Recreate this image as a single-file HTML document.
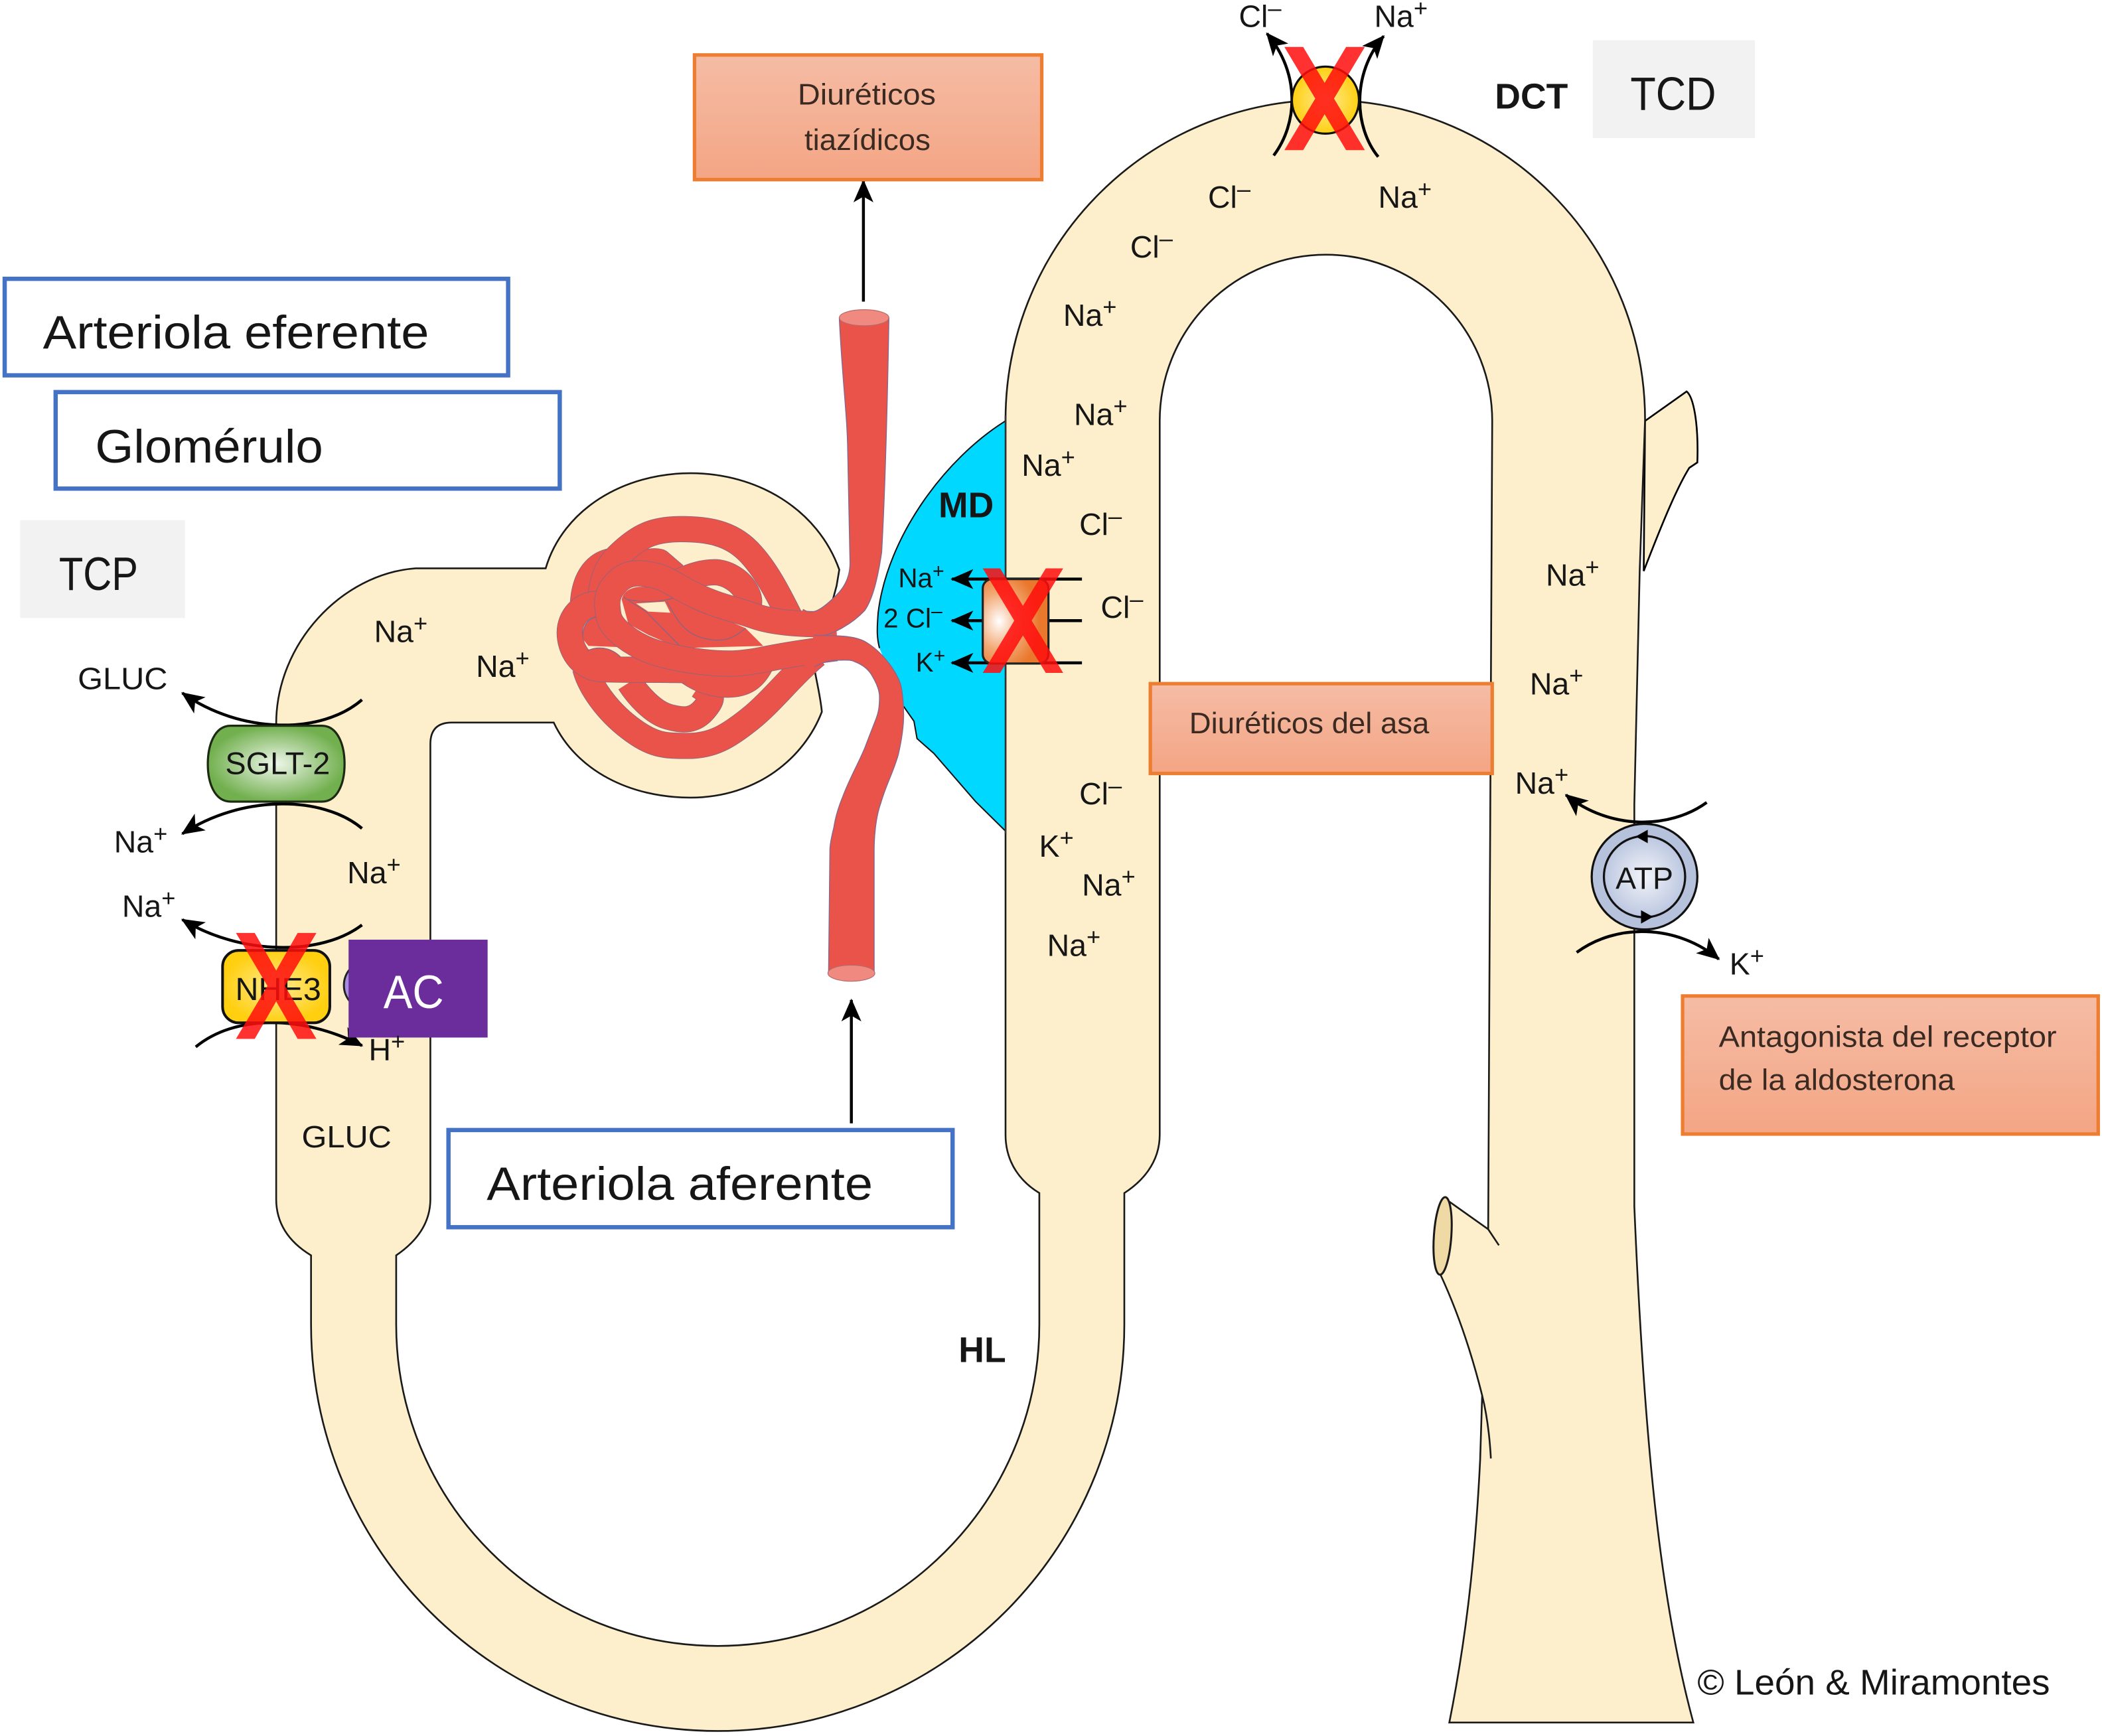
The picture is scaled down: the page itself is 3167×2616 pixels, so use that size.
<!DOCTYPE html>
<html><head><meta charset="utf-8"><title>Nefrona</title>
<style>
html,body{margin:0;padding:0;background:#fff}
svg{display:block}
text{font-family:"Liberation Sans",sans-serif;fill:#161616;font-size:23px}
.s{font-size:18px}
.b{font-weight:bold;font-size:26.5px}
.t{font-size:35px}
.o{font-size:22px;fill:#3a2a22}
.co path{fill:none;stroke-linecap:butt;stroke-linejoin:round}
.co .e{stroke:#8a6480;stroke-width:118}
.co .f{stroke:#e9534a;stroke-width:113}
.co .r{fill:#e9534a;stroke:none}
.co .l{fill:none;stroke:#8a6480;stroke-width:4}
.a{fill:none;stroke:#000;stroke-width:2.2;marker-end:url(#ah)}
.v{fill:none;stroke:#86688a;stroke-width:.7}
</style></head><body>
<svg xmlns="http://www.w3.org/2000/svg" width="3167" height="2616" viewBox="0 0 1567.82 1295.05">
<defs>
<marker id="ah" markerUnits="userSpaceOnUse" markerWidth="17" markerHeight="17" viewBox="0 0 16 16" refX="15" refY="8" orient="auto"><path d="M0,1 L16,8 L0,15 L4,8z" fill="#000"/></marker>
<linearGradient id="og" x1="0" y1="0" x2="0" y2="1"><stop offset="0" stop-color="#f5bca5"/><stop offset="1" stop-color="#f4a584"/></linearGradient>
<radialGradient id="gg"><stop offset="0" stop-color="#eef6ea"/><stop offset="1" stop-color="#72b04f"/></radialGradient>
<radialGradient id="yg"><stop offset="0" stop-color="#ffeb95"/><stop offset="1" stop-color="#ffcf10"/></radialGradient>
<radialGradient id="nk" cx=".25" cy=".5" r=".62"><stop offset="0" stop-color="#fff"/><stop offset=".55" stop-color="#f2a873"/><stop offset="1" stop-color="#e9772c"/></radialGradient>
<radialGradient id="at"><stop offset="0" stop-color="#f2f4f9"/><stop offset="1" stop-color="#bcc7e0"/></radialGradient>
</defs>
<rect width="1568" height="1296" fill="#fff"/>

<!-- side branch top right -->
<path d="M1227,314 L1258,292 C1263,296 1267,315 1266,345 L1260,349 C1250,365 1238,395 1226,426 Z" fill="#fdefcb" stroke="#000" stroke-width="1.3"/>

<!-- tubule -->
<path d="M206,540 V894.5 C206,915 218,928 232,936.5 V988 A300,300 0 0 0 838.6,988 V890 C851,882 865,868 865,846.5 V314 A120,120 0 0 1 1113,314 L1110,917 L1079,895 L1074,950 C1088,980 1098,1011 1105.5,1041 L1104,1089 C1100,1170 1092,1230 1081,1285 H1263 C1240,1200 1227,1090 1219,900 L1219,600 L1223,426 L1227,313 A238.5,238.5 0 0 0 750,313 V846.5 C750,868 762,882 775.2,890 V988 A235,235 0 0 1 295.5,988 V936.5 C308,928 321,915 321,894.5 V555 Q321,539 337,539 H413 C430,575 470,595 515,595 C565,595 600,565 613,531 C612,520 609,508 607.4,498.5 L624,437 L626,425 C610,380 565,353 515,353 C465,353 420,380 407,424 H310 C255,428 206,480 206,540 Z" fill="#fdefcb" stroke="#1a1a1a" stroke-width="1.3"/>
<path d="M1105.5,1041 C1109,1055 1111,1070 1112,1088" fill="none" stroke="#1a1a1a" stroke-width="1.3"/>
<path d="M1110,917 L1118,929" fill="none" stroke="#1a1a1a" stroke-width="1.3"/>
<ellipse cx="1076" cy="922" rx="6.5" ry="29" transform="rotate(4 1076 922)" fill="#efd9a4" stroke="#1a1a1a" stroke-width="1.5"/>

<!-- macula densa -->
<path d="M750,314 C705,342 662,400 655,457 C654,470 654,476 656,483.5 L674,527 L681.7,538 L684,551 L696.5,562 L727.7,598 L750,620 Z" fill="#00d8ff"/>
<path d="M750,314 C705,342 662,400 655,457 C654,470 654,476 656,483.5 M674,527 L681.7,538 L684,551 L696.5,562 L727.7,598 L750,620" fill="none" stroke="#111" stroke-width="1"/>
<path d="M750,310 V622" fill="none" stroke="#333" stroke-width="1.3"/>

<!-- glomerular coil -->
<g class="co" transform="translate(405.94,366.34) scale(.16502)">
<path class="e" d="M185,800 C205,880 280,990 385,1070 S540,1152 650,1152 S830,1110 930,1030 S1120,830 1230,740"/>
<path class="f" d="M185,800 C205,880 280,990 385,1070 S540,1152 650,1152 S830,1110 930,1030 S1120,830 1230,740"/>
<path class="e" d="M385,865 C420,920 490,1000 560,1020 S680,1040 725,985 S760,920 700,880"/>
<path class="f" d="M385,865 C420,920 490,1000 560,1020 S680,1040 725,985 S760,920 700,880"/>
<path class="e" d="M620,790 C680,850 760,875 830,875 S950,850 985,770"/>
<path class="f" d="M620,790 C680,850 760,875 830,875 S950,850 985,770"/>
<path class="e" d="M175,510 C180,410 220,330 310,315"/>
<path class="f" d="M175,510 C180,410 220,330 310,315"/>
<path class="e" d="M400,370 C430,330 480,310 520,320 L590,380"/>
<path class="f" d="M400,370 C430,330 480,310 520,320 L590,380"/>
<path class="e" d="M610,410 C670,380 720,367 770,367 S880,400 910,450 S920,520 915,560"/>
<path class="f" d="M610,410 C670,380 720,367 770,367 S880,400 910,450 S920,520 915,560"/>
<path class="e" d="M1110,570 C1060,470 1000,350 920,270 S740,172 620,172 S440,200 370,260 S270,360 255,470"/>
<path class="f" d="M1110,570 C1060,470 1000,350 920,270 S740,172 620,172 S440,200 370,260 S270,360 255,470"/>
<path class="r" d="M232,570 C190,580 170,620 175,670 L200,700 L330,705 L230,560 Z"/>
<path class="l" d="M232,570 C190,580 170,620 175,670"/>
<path class="e" d="M240,510 C170,510 115,570 115,640 S160,800 260,805 S480,805 640,810"/>
<path class="f" d="M240,510 C170,510 115,570 115,640 S160,800 260,805 S480,805 640,810"/>
<path class="r" d="M195,722 C240,700 300,705 345,750 L250,752 Z"/>
<path class="l" d="M195,722 C240,700 300,705 345,750"/>
<path class="r" d="M350,490 C360,440 420,420 500,440 L910,620 L990,700 L610,710 L470,650 L380,600 Z"/>
<path d="M415,508 L545,500 L570,550 L470,545 Z" style="fill:#fdefcb;stroke:none"/>
<path class="l" d="M360,480 L460,545 L610,697"/>
<path class="l" d="M380,490 C450,505 520,505 605,478"/>
<path class="l" d="M555,500 C590,560 620,640 720,665 S860,660 910,620"/>
<path class="e" d="M1320,600 C1200,605 1050,600 950,565 S800,525 700,480 S560,395 500,382 S380,360 330,410 S280,500 290,560 S380,675 440,705 S600,760 720,773 S900,780 1000,760 S1200,725 1320,710"/>
<path class="f" d="M1320,600 C1200,605 1050,600 950,565 S800,525 700,480 S560,395 500,382 S380,360 330,410 S280,500 290,560 S380,675 440,705 S600,760 720,773 S900,780 1000,760 S1200,725 1320,710"/>
</g>

<!-- efferent arteriole -->
<path d="M626,237 C628,280 632,310 632.3,337 L634,420 C634,430 630,438 623.8,444 C617,451 610,456.4 605.5,456.4 C602,456.4 600,455.5 599,454.5 L590,470 L607,475 C620,475 636,465 645,455.4 C650,448 654,436 657.6,412 C660,370 662,300 663,237 Z" fill="#e9534a"/>
<path class="v" d="M626,237 C628,280 632,310 632.3,337 L634,420 C634,430 630,438 623.8,444 C617,451 610,456.4 605.5,456.4 C602,456.4 600,455.5 599,454.5"/>
<path class="v" d="M607,475 C620,475 636,465 645,455.4 C650,448 654,436 657.6,412 C660,370 662,300 663,237"/>
<ellipse cx="644.5" cy="237" rx="18.5" ry="6" fill="#f08a80" stroke="#b86a6a" stroke-width=".6"/>
<!-- afferent arteriole -->
<path d="M652,726 L652,634 C652,625 653,610 657,599 C661,585 666,577 670,563 C673,550 674,540 674,533 C674,525 673,515 671.6,510 C668,500 658,486 645,478.5 C638,475 630,474 607,474 L600,497 L607.4,497.5 C612,495 618,492.5 624,492.5 C630,492.5 634,492 637,493.4 C644,496 648,500 650,503.3 C654,510 656,515 656,520 C656,528 655,532 653.5,536 C650,545 648,550 645,558 C640,570 634,580 628.7,594 C625,603 623,610 622,617 C620,625 619,630 619,634 L618,726 Z" fill="#e9534a"/>
<path class="v" d="M652,726 L652,634 C652,625 653,610 657,599 C661,585 666,577 670,563 C673,550 674,540 674,533 C674,525 673,515 671.6,510 C668,500 658,486 645,478.5 C638,475 630,474 607,474"/>
<path class="v" d="M607.4,497.5 C612,495 618,492.5 624,492.5 C630,492.5 634,492 637,493.4 C644,496 648,500 650,503.3 C654,510 656,515 656,520 C656,528 655,532 653.5,536 C650,545 648,550 645,558 C640,570 634,580 628.7,594 C625,603 623,610 622,617 C620,625 619,630 619,634 L618,726"/>
<ellipse cx="635" cy="726" rx="17.5" ry="6" fill="#f08a80" stroke="#b86a6a" stroke-width=".6"/>

<!-- vertical arrows -->
<path class="a" d="M644,225 V135"/>
<path class="a" d="M635,838 V746"/>

<!-- NKCC -->
<path class="a" d="M807,432 H710"/>
<path class="a" d="M807,463 H710"/>
<path class="a" d="M807,494.5 H710"/>
<rect x="733" y="432" width="49" height="63" rx="7" fill="url(#nk)" stroke="#222" stroke-width="1.6"/>

<!-- SGLT-2 arrows -->
<path class="a" d="M270,522 C240,548 180,548 136,517"/>
<path class="a" d="M270,618 C240,593 180,593 136,622"/>
<path class="a" d="M270,690 C240,713 180,713 136,686"/>
<path class="a" d="M146,781 C175,757 225,757 270,780"/>
<path d="M172,541.4 H240 C252,541.4 257,556 257,570 S252,598 240,598 H172 C160,598 155,584 155,570 S160,541.4 172,541.4 Z" fill="url(#gg)" stroke="#1c2a14" stroke-width="1.6"/>
<text x="168" y="577.5" style="font-size:23.2px">SGLT-2</text>
<rect x="166" y="709" width="80" height="54" rx="12" fill="url(#yg)" stroke="#111" stroke-width="2"/>
<text x="175.5" y="746" style="font-size:24px">NHE3</text>
<circle cx="275" cy="735" r="18.5" fill="#a78be0" stroke="#222" stroke-width="1.5"/>

<!-- DCT transporter -->
<path class="a" d="M950,116 C968,92 970,55 945,25"/>
<path class="a" d="M1028,117 C1010,95 1008,55 1032,27"/>
<circle cx="988.6" cy="74.7" r="25" fill="url(#yg)" stroke="#111" stroke-width="1.6"/>

<!-- ATP -->
<path class="a" d="M1273,598.6 C1245,619 1200,619 1168,593"/>
<path class="a" d="M1176,710.5 C1205,689 1250,689 1282,715.5"/>
<circle cx="1226.6" cy="654" r="39.4" fill="#b6c1dc" stroke="#111" stroke-width="1.6"/>
<circle cx="1226.6" cy="654" r="30.3" fill="url(#at)" stroke="#111" stroke-width="1.6"/>
<path d="M1220,624 L1229,619 L1229,629 Z" fill="#000"/>
<path d="M1233,684 L1224,679 L1224,689 Z" fill="#000"/>
<text x="1205" y="663" style="font-size:23px">ATP</text>

<!-- Red X marks -->
<g fill="#ff0d0d" opacity=".85">
<path d="M958,35 h14 L988,61.8 L1004,35 h14 L995,73.5 L1018,112 h-14 L988,85.2 L972,112 h-14 L981,73.5 Z"/>
<path d="M733,424 h13 L763,452 L780,424 h13 L769.5,463 L793,502 h-13 L763,474 L746,502 h-13 L756.5,463 Z"/>
<path d="M176,696 h14 L206,724 L222,696 h14 L212.5,735.5 L236,775 h-14 L206,747 L190,775 h-14 L199.5,735.5 Z"/>
</g>

<!-- AC box -->
<rect x="260" y="701" width="103.7" height="73" fill="#6b2d9b"/>
<text x="286" y="752" class="t" style="fill:#fff" textLength="45" lengthAdjust="spacingAndGlyphs">AC</text>

<!-- Blue boxes -->
<g fill="#fff" stroke="#4472c4" stroke-width="3.2">
<rect x="3.5" y="208" width="375.5" height="72"/>
<rect x="41.5" y="292.5" width="376" height="72"/>
<rect x="334.5" y="843" width="376" height="72.5"/>
</g>
<text x="32" y="260" class="t" textLength="288" lengthAdjust="spacingAndGlyphs">Arteriola eferente</text>
<text x="71" y="345" class="t" textLength="170" lengthAdjust="spacingAndGlyphs">Glomérulo</text>
<text x="363" y="895" class="t" textLength="288" lengthAdjust="spacingAndGlyphs">Arteriola aferente</text>

<!-- Grey boxes -->
<rect x="15" y="388" width="123" height="73" fill="#f2f2f2"/>
<text x="44" y="440" class="t" textLength="59" lengthAdjust="spacingAndGlyphs">TCP</text>
<rect x="1188" y="30" width="121" height="73" fill="#f2f2f2"/>
<text x="1216" y="82" class="t" textLength="64" lengthAdjust="spacingAndGlyphs">TCD</text>

<!-- Orange boxes -->
<g fill="url(#og)" stroke="#ed7d31" stroke-width="2.6">
<rect x="518" y="41" width="259" height="93"/>
<rect x="858" y="510" width="255" height="67"/>
<rect x="1255" y="743" width="310" height="103"/>
</g>
<text x="595" y="78" class="o" textLength="103" lengthAdjust="spacingAndGlyphs">Diuréticos</text>
<text x="600" y="112" class="o" textLength="94" lengthAdjust="spacingAndGlyphs">tiazídicos</text>
<text x="887" y="547" class="o" textLength="179" lengthAdjust="spacingAndGlyphs">Diuréticos del asa</text>
<text x="1282" y="781" class="o" textLength="252" lengthAdjust="spacingAndGlyphs">Antagonista del receptor</text>
<text x="1282" y="813" class="o" textLength="176" lengthAdjust="spacingAndGlyphs">de la aldosterona</text>

<!-- Ion labels -->
<text x="924" y="20">Cl<tspan class="s" dy="-8">–</tspan></text>
<text x="1025" y="20">Na<tspan class="s" dy="-8">+</tspan></text>
<text x="901" y="155">Cl<tspan class="s" dy="-8">–</tspan></text>
<text x="1028" y="155">Na<tspan class="s" dy="-8">+</tspan></text>
<text x="843" y="192">Cl<tspan class="s" dy="-8">–</tspan></text>
<text x="793" y="243">Na<tspan class="s" dy="-8">+</tspan></text>
<text x="801" y="317">Na<tspan class="s" dy="-8">+</tspan></text>
<text x="762" y="355">Na<tspan class="s" dy="-8">+</tspan></text>
<text x="805" y="399">Cl<tspan class="s" dy="-8">–</tspan></text>
<text x="821" y="461">Cl<tspan class="s" dy="-8">–</tspan></text>
<text x="805" y="600">Cl<tspan class="s" dy="-8">–</tspan></text>
<text x="775" y="639">K<tspan class="s" dy="-8">+</tspan></text>
<text x="807" y="668">Na<tspan class="s" dy="-8">+</tspan></text>
<text x="781" y="713">Na<tspan class="s" dy="-8">+</tspan></text>
<text x="670" y="438" style="font-size:20px">Na<tspan style="font-size:15px" dy="-7">+</tspan></text>
<text x="659" y="468" style="font-size:20px">2 Cl<tspan style="font-size:15px" dy="-7">–</tspan></text>
<text x="683" y="501" style="font-size:20px">K<tspan style="font-size:15px" dy="-7">+</tspan></text>
<text x="1153" y="437">Na<tspan class="s" dy="-8">+</tspan></text>
<text x="1141" y="518">Na<tspan class="s" dy="-8">+</tspan></text>
<text x="1130" y="592">Na<tspan class="s" dy="-8">+</tspan></text>
<text x="1290" y="727">K<tspan class="s" dy="-8">+</tspan></text>
<text x="279" y="479">Na<tspan class="s" dy="-8">+</tspan></text>
<text x="355" y="505">Na<tspan class="s" dy="-8">+</tspan></text>
<text x="259" y="659">Na<tspan class="s" dy="-8">+</tspan></text>
<text x="85" y="636">Na<tspan class="s" dy="-8">+</tspan></text>
<text x="91" y="684">Na<tspan class="s" dy="-8">+</tspan></text>
<text x="275" y="791">H<tspan class="s" dy="-8">+</tspan></text>
<text x="58" y="514" style="font-size:23px" textLength="67" lengthAdjust="spacingAndGlyphs">GLUC</text>
<text x="225" y="856" style="font-size:23px" textLength="67" lengthAdjust="spacingAndGlyphs">GLUC</text>
<text x="700" y="386" class="b">MD</text>
<text x="715" y="1016" class="b">HL</text>
<text x="1115" y="81" class="b">DCT</text>
<text x="1266" y="1264" style="font-size:26.5px" textLength="263" lengthAdjust="spacingAndGlyphs">© León &amp; Miramontes</text>
</svg>
</body></html>
